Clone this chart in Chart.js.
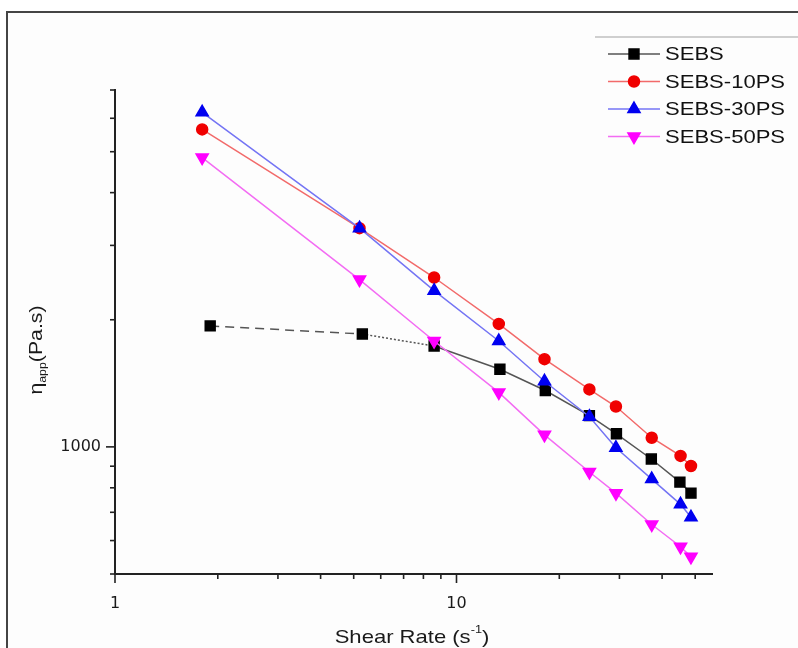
<!DOCTYPE html>
<html>
<head>
<meta charset="utf-8">
<script src="https://cdn.jsdelivr.net/npm/chart.js@4"></script>
<style>
  html, body { margin: 0; padding: 0; background: #fff; }
  #wrap { position: relative; width: 798px; height: 648px; overflow: hidden; }
  #frame { position: absolute; left: 6px; top: 11px; width: 820px; height: 700px;
           border-left: 2px solid #444; border-top: 2px solid #444; background: #fdfdfd; }
  canvas { position: absolute; left: 0; top: 0; }
</style>
</head>
<body>
<div id="wrap">
  <div id="frame"></div>
  <canvas id="viscChart" width="798" height="648"></canvas>
</div>
<script>
// shear rate (s^-1)
const shearRate = [1.8, 5.2, 8.6, 13.3, 18.1, 24.5, 29.3, 37.3, 45.3, 48.6];
const sebsShearRate = [1.9, 5.3, 8.6, 13.4, 18.2, 24.5, 29.4, 37.2, 45.1, 48.6];

// apparent viscosity (Pa.s)
const sebs   = [1934, 1850, 1733, 1527, 1360, 1186, 1074, 936, 825, 777];
const sebs10 = [5647, 3295, 2518, 1955, 1613, 1368, 1246, 1051, 952, 901];
const sebs30 = [6199, 3295, 2344, 1781, 1430, 1179, 995, 839, 731, 681];
const sebs50 = [4842, 2490, 1781, 1346, 1068, 872, 777, 655, 580, 549];

const xTicks = [1, 2, 3, 4, 5, 6, 7, 8, 9, 10, 20, 30, 40, 50];
const xLabels = [1, 10];
const yTicks = [500, 600, 700, 800, 900, 1000, 2000, 3000, 4000, 5000, 6000, 7000];
const yLabels = [1000];

const pts = (xs, ys) => ys.map((y, i) => ({ x: xs[i], y: y }));

const TXT = 'Liberation Sans, Arial, sans-serif';

function stretched(ctx, text, x, y, sx) {
    ctx.save();
    ctx.translate(x, y);
    ctx.scale(sx, 1);
    ctx.fillText(text, 0, 0);
    ctx.restore();
}

// tick marks, axis titles and the legend box
const decorations = {
    id: 'decorations',
    afterDraw(chart) {
        const ctx = chart.ctx;
        const xs = chart.scales.x, ys = chart.scales.y;
        const area = chart.chartArea;

        ctx.save();
        ctx.strokeStyle = '#222';
        ctx.lineWidth = 1.6;
        xs.ticks.forEach(t => {
            const px = xs.getPixelForValue(t.value);
            const len = xLabels.includes(t.value) ? 9 : 5;
            ctx.beginPath();
            ctx.moveTo(px, area.bottom);
            ctx.lineTo(px, area.bottom + len);
            ctx.stroke();
        });
        ys.ticks.forEach(t => {
            const py = ys.getPixelForValue(t.value);
            const len = yLabels.includes(t.value) ? 9 : 5;
            ctx.beginPath();
            ctx.moveTo(area.left, py);
            ctx.lineTo(area.left - len, py);
            ctx.stroke();
        });

        // x title with superscript
        ctx.fillStyle = '#1a1a1a';
        ctx.textBaseline = 'alphabetic';
        ctx.textAlign = 'left';
        const sx = 1.16;
        ctx.font = '19px ' + TXT;
        const a = 'Shear Rate (s', c = ')';
        const wa = ctx.measureText(a).width * sx, wc = ctx.measureText(c).width * sx;
        ctx.font = '11px ' + TXT;
        const wb = ctx.measureText('-1').width * sx;
        let x0 = 412 - (wa + wb + wc) / 2;
        ctx.font = '19px ' + TXT;
        stretched(ctx, a, x0, 643, sx);
        ctx.font = '11px ' + TXT;
        stretched(ctx, '-1', x0 + wa, 633, sx);
        ctx.font = '19px ' + TXT;
        stretched(ctx, c, x0 + wa + wb, 643, sx);

        // y title with subscript
        ctx.save();
        ctx.translate(42, 350);
        ctx.rotate(-Math.PI / 2);
        const sy = 1.12;
        ctx.font = '19px ' + TXT;
        const e = 'η', g = '(Pa.s)';
        const we = ctx.measureText(e).width * sy, wg = ctx.measureText(g).width * sy;
        ctx.font = '11px ' + TXT;
        const wf = ctx.measureText('app').width * sy;
        let l0 = -(we + wf + wg) / 2;
        ctx.font = '19px ' + TXT;
        stretched(ctx, e, l0, 0, sy);
        ctx.font = '11px ' + TXT;
        stretched(ctx, 'app', l0 + we, 4, sy);
        ctx.font = '19px ' + TXT;
        stretched(ctx, g, l0 + we + wf, 0, sy);
        ctx.restore();

        // legend
        ctx.strokeStyle = '#cfcfcf';
        ctx.lineWidth = 2;
        ctx.beginPath();
        ctx.moveTo(595, 37);
        ctx.lineTo(798, 37);
        ctx.stroke();
        chart.data.datasets.forEach((ds, i) => {
            const ly = 54 + 27.5 * i;
            ctx.strokeStyle = ds.borderColor;
            ctx.lineWidth = 1.5;
            ctx.beginPath();
            ctx.moveTo(608, ly);
            ctx.lineTo(660, ly);
            ctx.stroke();
            ctx.fillStyle = ds.pointBackgroundColor;
            ctx.strokeStyle = ds.pointBackgroundColor;
            Chart.helpers.drawPoint(ctx, {
                pointStyle: ds.pointStyle, rotation: ds.pointRotation || 0,
                radius: ds.pointRadius, borderWidth: 1
            }, 634, ly);
            ctx.fillStyle = '#111';
            ctx.font = '19px ' + TXT;
            ctx.textBaseline = 'middle';
            stretched(ctx, ds.label, 665, ly + 1, 1.16);
        });
        ctx.restore();
    }
};

const ctx = document.getElementById('viscChart').getContext('2d');

new Chart(ctx, {
    type: 'scatter',
    data: {
        datasets: [
            {
                label: 'SEBS',
                data: pts(sebsShearRate, sebs),
                showLine: true,
                borderColor: '#555',
                borderWidth: 1.5,
                pointStyle: 'rect',
                pointRadius: 7,
                pointBackgroundColor: '#000',
                pointBorderColor: '#000',
                order: 2,
                segment: {
                    borderDash: c => c.p0DataIndex === 0 ? [9, 6] : (c.p0DataIndex === 1 ? [2, 2] : undefined)
                }
            },
            {
                label: 'SEBS-10PS',
                data: pts(shearRate, sebs10),
                showLine: true,
                borderColor: '#f26a6a',
                borderWidth: 1.5,
                pointStyle: 'circle',
                pointRadius: 5.5,
                pointBackgroundColor: '#f00000',
                pointBorderColor: '#f00000',
                order: 3
            },
            {
                label: 'SEBS-30PS',
                data: pts(shearRate, sebs30),
                showLine: true,
                borderColor: '#7474f4',
                borderWidth: 1.5,
                pointStyle: 'triangle',
                pointRadius: 7,
                pointBackgroundColor: '#0000f0',
                pointBorderColor: '#0000f0',
                order: 1
            },
            {
                label: 'SEBS-50PS',
                data: pts(shearRate, sebs50),
                showLine: true,
                borderColor: '#f36cf3',
                borderWidth: 1.5,
                pointStyle: 'triangle',
                pointRotation: 180,
                pointRadius: 7,
                pointBackgroundColor: '#ff00ff',
                pointBorderColor: '#ff00ff',
                order: 0
            }
        ]
    },
    options: {
        responsive: false,
        animation: false,
        layout: { padding: { left: 0, top: 90, right: 86, bottom: 0 } },
        plugins: {
            legend: { display: false },
            tooltip: { enabled: false }
        },
        scales: {
            x: {
                type: 'logarithmic',
                min: 1,
                max: 56,
                afterBuildTicks: s => { s.ticks = xTicks.map(v => ({ value: v })); },
                afterFit: s => { s.height = 74; },
                grid: { display: false, drawTicks: false },
                border: { display: true, color: '#222', width: 2 },
                ticks: {
                    autoSkip: false,
                    maxRotation: 0,
                    padding: 20,
                    color: '#1a1a1a',
                    font: { family: 'DejaVu Sans', size: 16 },
                    callback: v => xLabels.includes(v) ? String(v) : ''
                }
            },
            y: {
                type: 'logarithmic',
                min: 500,
                max: 7000,
                afterBuildTicks: s => { s.ticks = yTicks.map(v => ({ value: v })); },
                afterFit: s => { s.width = 115; },
                grid: { display: false, drawTicks: false },
                border: { display: true, color: '#222', width: 2 },
                ticks: {
                    autoSkip: false,
                    padding: 14,
                    color: '#1a1a1a',
                    font: { family: 'DejaVu Sans', size: 16 },
                    callback: v => yLabels.includes(v) ? String(v) : ''
                }
            }
        }
    },
    plugins: [decorations]
});
</script>
</body>
</html>
